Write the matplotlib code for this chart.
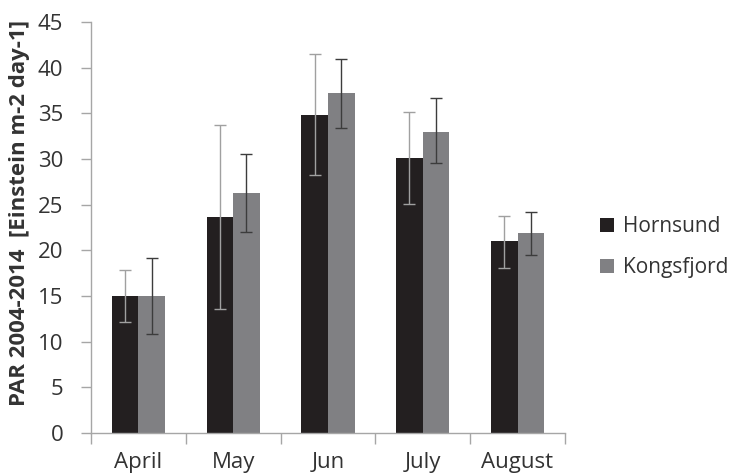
import matplotlib.pyplot as plt
import numpy as np

plt.rcParams['font.family'] = ['Open Sans', 'DejaVu Sans']

months = ['April', 'May', 'Jun', 'July', 'August']
hornsund = [15.0, 23.6, 34.8, 30.1, 21.0]
hornsund_lo = [12.1, 13.6, 28.2, 25.1, 18.1]
hornsund_hi = [17.9, 33.7, 41.5, 35.1, 23.8]
kongsfjord = [15.0, 26.3, 37.2, 33.0, 21.9]
kongsfjord_lo = [10.8, 22.0, 33.4, 29.6, 19.5]
kongsfjord_hi = [19.2, 30.6, 41.0, 36.7, 24.2]

axis_grey = '#a6a6a6'
fig = plt.figure(figsize=(7.32, 4.76), dpi=100)
ax = fig.add_axes([0.1243, 0.0903, 0.6475, 0.8635])

x = np.arange(len(months))
w = 0.28
h = np.array(hornsund)
k = np.array(kongsfjord)
ax.bar(x - w/2, h, w, color='#231f20', label='Hornsund', zorder=2)
ax.bar(x + w/2, k, w, color='#808083', label='Kongsfjord', zorder=2)
ax.errorbar(x - w/2, h, yerr=[h - np.array(hornsund_lo), np.array(hornsund_hi) - h],
            fmt='none', ecolor='#a0a0a0', elinewidth=1, capsize=4, capthick=1, zorder=3)
ax.errorbar(x + w/2, k, yerr=[k - np.array(kongsfjord_lo), np.array(kongsfjord_hi) - k],
            fmt='none', ecolor='#3c3c3c', elinewidth=1, capsize=4, capthick=1, zorder=3)

ax.set_xlim(-0.5, len(months) - 0.5)
ax.set_ylim(0, 45)
ax.set_yticks(range(0, 46, 5))
ax.set_xticks(x)
ax.set_xticklabels(months)
ax.set_xticks(np.arange(-0.5, len(months)), minor=True)
ax.tick_params(axis='x', which='major', length=0, pad=14, labelsize=16, colors='#333333')
ax.tick_params(axis='x', which='minor', length=8, color=axis_grey, width=1)
ax.tick_params(axis='y', length=7, color=axis_grey, width=1, labelsize=16, labelcolor='#333333', pad=13)
for s in ['top', 'right']:
    ax.spines[s].set_visible(False)
for s in ['left', 'bottom']:
    ax.spines[s].set_color(axis_grey)
    ax.spines[s].set_linewidth(1)

ax.set_ylabel('PAR 2004-2014  [Einstein m-2 day-1]', fontsize=16, fontweight='bold',
              color='#333333')
ax.yaxis.set_label_coords(-0.129, 0.535)

ax.legend(loc='center left', bbox_to_anchor=(1.035, 0.452), frameon=False, fontsize=15,
          handlelength=0.65, handleheight=0.65, labelspacing=0.95, handletextpad=0.45,
          labelcolor='#333333')

fig.savefig('out.png', dpi=100)
